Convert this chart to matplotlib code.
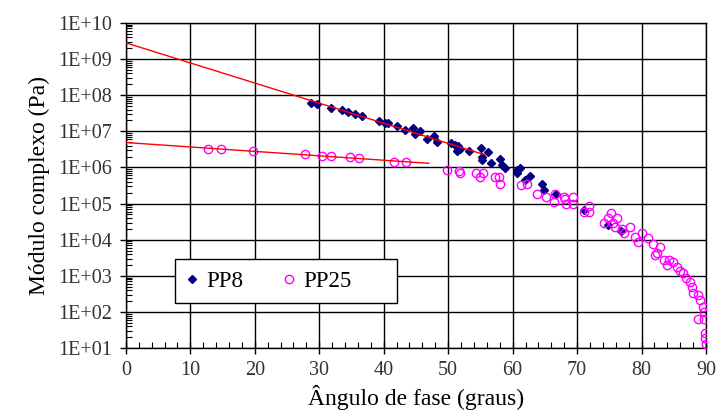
import numpy as np
import matplotlib
matplotlib.use("Agg")
import matplotlib.pyplot as plt
from matplotlib.patches import Rectangle
from matplotlib.ticker import FixedLocator, LogLocator, NullFormatter, MultipleLocator

plt.rcParams["font.family"] = ["Liberation Serif", "DejaVu Serif"]

# PP8 data (phase angle in degrees, complex modulus in Pa)
pp8_angle = [28.8, 29.7, 31.8, 33.6, 34.5, 35.5, 36.7, 39.3, 40.2, 40.7, 42.1, 43.3,
             44.6, 44.8, 45.7, 46.7, 47.8, 48.3, 50.4, 51.0, 51.6, 51.3, 51.9, 53.3,
             55.1, 56.2, 55.3, 55.3, 56.6, 58.0, 58.3, 58.8, 60.7, 61.1, 60.7, 62.7,
             61.9, 64.5, 64.9, 66.8, 71.0, 74.8, 76.8]
pp8_modulus = [6.2e7, 5.6e7, 4.4e7, 3.9e7, 3.4e7, 3.0e7, 2.6e7, 1.95e7, 1.74e7, 1.66e7,
               1.41e7, 1.1e7, 1.2e7, 8.5e6, 1.02e7, 6.2e6, 7.4e6, 5.0e6, 4.7e6, 4.2e6,
               3.9e6, 2.8e6, 3.2e6, 2.9e6, 3.4e6, 2.6e6, 2.0e6, 1.6e6, 1.3e6, 1.7e6,
               1.2e6, 9.5e5, 8.5e5, 9.5e5, 7.2e5, 5.9e5, 4.5e5, 3.6e5, 2.4e5, 1.9e5,
               6.6e4, 2.6e4, 1.7e4]

# PP25 data
pp25_angle = [12.8, 14.7, 19.7, 27.8, 30.5, 31.9, 34.8, 36.2, 41.6, 43.5,
              49.8, 51.7, 51.8, 54.3, 54.9, 55.4, 57.3, 57.9, 58.1, 61.3,
              62.2, 63.7, 65.2, 66.6, 66.4, 67.9, 68.1, 68.3, 69.4, 69.4,
              71.0, 71.8, 71.8, 74.2, 75.2, 74.8, 76.2, 75.6, 75.9, 76.9,
              77.3, 78.2, 79.0, 79.4, 80.0, 81.0, 81.7, 82.4, 82.9, 82.1,
              83.4, 83.9, 84.3, 84.9, 85.5, 86.0, 86.5, 86.9, 87.5, 87.8,
              88.0, 88.7, 89.0, 89.5, 89.7, 88.8, 89.7, 89.9, 89.9, 89.95]
pp25_modulus = [3.2e6, 3.2e6, 2.9e6, 2.3e6, 2.1e6, 2.1e6, 1.9e6, 1.8e6, 1.4e6, 1.4e6,
                8.5e5, 8.1e5, 6.9e5, 6.9e5, 5.4e5, 7.1e5, 5.4e5, 5.4e5, 3.5e5, 3.2e5,
                3.5e5, 1.9e5, 1.5e5, 1.8e5, 1.1e5, 1.5e5, 1.3e5, 9.8e4, 1.5e5, 1.0e5,
                5.9e4, 8.5e4, 5.9e4, 3.0e4, 5.4e4, 3.9e4, 3.9e4, 3.0e4, 2.2e4, 2.0e4,
                1.5e4, 2.2e4, 1.2e4, 8.7e3, 1.5e4, 1.1e4, 7.6e3, 4.2e3, 6.2e3, 3.8e3,
                2.8e3, 2.0e3, 2.8e3, 2.5e3, 1.8e3, 1.4e3, 1.2e3, 890, 690, 500,
                340, 300, 210, 135, 100, 66, 66, 26, 19, 13]

# points used for the exponential trend lines, and where each line stops
pp8_fit_limit = 54.0
pp8_line_end = 55.7
pp25_fit_limit = 47.0
pp25_line_end = 47.0

fig = plt.figure(figsize=(7.19, 4.16), dpi=100)
ax = fig.add_axes([0.175, 0.163, 0.807, 0.782])

ax.plot(pp8_angle, pp8_modulus, linestyle="none", marker="D", markersize=4.5,
        color="#000080", label="PP8", zorder=3)
ax.plot(pp25_angle, pp25_modulus, linestyle="none", marker="o", markersize=6,
        markerfacecolor="none", markeredgecolor="#FF00FF", markeredgewidth=1,
        label="PP25", zorder=4)

# exponential trend lines fitted in log space, drawn back to 0 degrees
for ang, mod, lim, end in [(pp8_angle, pp8_modulus, pp8_fit_limit, pp8_line_end),
                           (pp25_angle, pp25_modulus, pp25_fit_limit, pp25_line_end)]:
    a = np.array(ang)
    m = np.array(mod)
    sel = a <= lim
    slope, icpt = np.polyfit(a[sel], np.log10(m[sel]), 1)
    xs = np.array([0, end])
    ax.plot(xs, 10 ** (icpt + slope * xs), color="red", linewidth=1, zorder=5)

ax.set_yscale("log")
ax.set_xlim(0, 90)
ax.set_ylim(10, 1e10)
ax.xaxis.set_major_locator(MultipleLocator(10))
ax.xaxis.set_minor_locator(MultipleLocator(2))
ax.yaxis.set_major_locator(FixedLocator([10.0 ** k for k in range(1, 11)]))
ax.yaxis.set_minor_locator(LogLocator(base=10, subs=np.arange(2, 10), numticks=20))
ax.yaxis.set_minor_formatter(NullFormatter())
ax.set_yticklabels(["1E+%02d" % k for k in range(1, 11)])

ax.grid(True, which="major", color="black", linewidth=1)
ax.tick_params(axis="both", which="major", direction="out", length=4, width=1,
               labelsize=14.5, colors="black", labelcolor="#333333")
ax.tick_params(axis="y", which="major", pad=6)
ax.tick_params(axis="both", which="minor", direction="in", length=4, width=0.8)
ax.tick_params(axis="x", which="major", direction="inout", length=8, pad=5)
for s in ax.spines.values():
    s.set_color("black")
    s.set_linewidth(1)

ax.set_xlabel("Ângulo de fase (graus)", fontsize=17, labelpad=4)
ax.set_ylabel("Módulo complexo (Pa)", fontsize=17, labelpad=6)

# legend box (Excel style: wide frame with room on the right)
box = Rectangle((0.084, 0.138), 0.383, 0.135, transform=ax.transAxes,
                facecolor="white", edgecolor="black", linewidth=1, zorder=6)
ax.add_patch(box)
leg = ax.legend(loc="center left", bbox_to_anchor=(0.084, 0.138 + 0.0675),
                borderaxespad=0, ncol=2, fontsize=16.5, frameon=False,
                handlelength=0.6, columnspacing=1.66, handletextpad=0.35,
                borderpad=0.45)
leg.set_zorder(7)

fig.savefig("out.png", dpi=100, facecolor="white")
